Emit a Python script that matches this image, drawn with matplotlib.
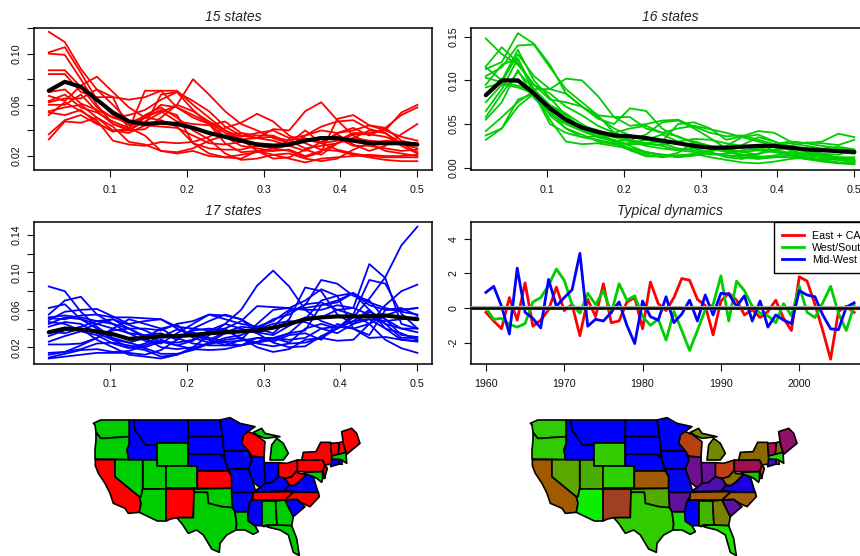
import numpy as np
import matplotlib
matplotlib.use('Agg')
import matplotlib.pyplot as plt
from matplotlib.patches import Polygon

plt.rcParams['font.family'] = ['Liberation Sans', 'DejaVu Sans']

RED = '#FF0000'
GREEN = '#00CD00'
BLUE = '#0000FF'

freq = [k / 48 for k in range(1, 25)]
years = list(range(1960, 2008))

red_lines = [
    [.117,.109,.088,.072,.060,.047,.044,.043,.042,.036,.030,.029,.031,.030,.029,.028,.032,.035,.034,.028,.028,.026,.024,.025],
    [.101,.105,.085,.064,.052,.044,.050,.060,.058,.050,.045,.035,.028,.026,.024,.025,.020,.024,.030,.034,.032,.031,.030,.029],
    [.100,.099,.080,.060,.045,.040,.047,.054,.060,.055,.047,.040,.033,.024,.021,.022,.018,.016,.018,.025,.030,.032,.031,.030],
    [.087,.087,.074,.058,.050,.052,.056,.064,.070,.063,.055,.043,.036,.034,.035,.032,.026,.028,.030,.037,.037,.035,.030,.023],
    [.084,.084,.070,.066,.066,.064,.066,.071,.071,.060,.050,.040,.035,.038,.040,.034,.036,.043,.047,.048,.041,.038,.030,.026],
    [.067,.063,.075,.082,.070,.058,.050,.048,.043,.030,.026,.025,.025,.028,.026,.028,.036,.040,.038,.040,.044,.042,.032,.029],
    [.062,.065,.065,.072,.066,.040,.041,.050,.060,.080,.068,.055,.045,.040,.034,.030,.040,.030,.032,.038,.038,.040,.035,.032],
    [.060,.060,.068,.055,.045,.041,.071,.071,.058,.052,.046,.038,.033,.034,.041,.040,.055,.062,.048,.036,.030,.024,.022,.020],
    [.055,.058,.060,.050,.040,.038,.044,.068,.070,.056,.045,.030,.023,.024,.024,.033,.034,.030,.025,.022,.020,.019,.019,.019],
    [.054,.052,.056,.046,.039,.042,.052,.058,.050,.040,.033,.022,.017,.018,.021,.018,.015,.018,.019,.020,.021,.020,.020,.021],
    [.052,.062,.055,.048,.032,.029,.028,.031,.030,.031,.035,.042,.046,.053,.047,.036,.030,.025,.024,.021,.019,.017,.016,.016],
    [.037,.048,.052,.045,.040,.040,.050,.056,.052,.030,.022,.019,.021,.023,.026,.024,.019,.023,.049,.052,.044,.040,.054,.060],
    [.033,.047,.046,.050,.043,.031,.029,.024,.023,.026,.032,.036,.038,.036,.036,.030,.033,.030,.038,.042,.036,.042,.052,.058],
    [.070,.072,.061,.056,.050,.046,.051,.055,.047,.045,.044,.047,.038,.034,.032,.028,.024,.031,.037,.029,.024,.028,.037,.045],
    [.063,.068,.058,.054,.047,.042,.036,.024,.022,.024,.020,.019,.018,.024,.018,.019,.025,.021,.030,.034,.040,.038,.028,.022],
]
red_mean = [.071,.078,.074,.064,.054,.047,.045,.046,.045,.042,.038,.035,.032,.029,.028,.029,.032,.034,.034,.032,.030,.030,.030,.029]

green_lines = [
    [.148,.130,.118,.095,.085,.070,.060,.048,.040,.032,.028,.025,.020,.018,.015,.016,.020,.022,.020,.017,.015,.014,.012,.010],
    [.116,.138,.120,.095,.078,.075,.070,.060,.058,.058,.045,.040,.045,.048,.044,.040,.035,.030,.025,.020,.015,.012,.010,.008],
    [.113,.121,.154,.142,.118,.085,.070,.058,.045,.037,.032,.028,.022,.020,.016,.014,.014,.016,.020,.022,.020,.016,.011,.008],
    [.105,.115,.140,.141,.115,.090,.075,.060,.040,.030,.028,.030,.050,.052,.045,.032,.036,.042,.040,.030,.028,.030,.039,.035],
    [.103,.098,.130,.105,.090,.102,.100,.082,.058,.048,.050,.054,.055,.047,.040,.036,.037,.032,.027,.030,.028,.025,.022,.020],
    [.095,.118,.125,.090,.090,.085,.070,.056,.050,.068,.065,.045,.035,.030,.025,.020,.015,.012,.012,.012,.010,.008,.006,.005],
    [.092,.097,.094,.087,.066,.055,.048,.043,.030,.027,.027,.026,.030,.033,.032,.028,.025,.020,.018,.016,.014,.013,.012,.012],
    [.085,.100,.135,.100,.080,.060,.045,.035,.032,.025,.018,.015,.014,.015,.017,.014,.012,.010,.012,.015,.017,.016,.015,.020],
    [.075,.095,.092,.085,.062,.052,.044,.038,.030,.032,.038,.052,.054,.045,.034,.022,.012,.012,.014,.018,.015,.012,.009,.006],
    [.065,.090,.125,.085,.070,.060,.045,.040,.035,.030,.025,.022,.020,.023,.022,.020,.018,.015,.025,.028,.025,.022,.024,.021],
    [.058,.085,.110,.090,.072,.062,.050,.040,.030,.022,.018,.014,.012,.014,.018,.025,.035,.038,.030,.022,.018,.014,.010,.008],
    [.055,.075,.112,.080,.062,.050,.042,.035,.030,.020,.015,.012,.014,.016,.012,.009,.006,.005,.007,.010,.012,.009,.006,.004],
    [.042,.058,.075,.088,.065,.045,.038,.030,.027,.028,.032,.038,.030,.022,.018,.012,.010,.016,.021,.025,.029,.028,.026,.032],
    [.037,.045,.078,.085,.050,.040,.035,.036,.040,.045,.048,.040,.036,.028,.022,.018,.015,.013,.012,.014,.010,.007,.005,.004],
    [.032,.045,.070,.085,.055,.030,.027,.028,.025,.022,.017,.015,.013,.014,.020,.022,.018,.020,.018,.015,.012,.010,.009,.007],
    [.115,.100,.098,.090,.060,.045,.035,.032,.028,.020,.013,.013,.017,.030,.024,.020,.026,.035,.030,.024,.022,.020,.018,.016],
]
green_mean = [.083,.100,.100,.085,.068,.055,.046,.041,.037,.036,.034,.031,.028,.025,.023,.023,.024,.025,.025,.023,.021,.020,.019,.018]

blue_lines = [
    [.085,.080,.058,.042,.030,.025,.030,.040,.044,.030,.025,.025,.022,.030,.030,.035,.038,.065,.070,.078,.068,.062,.058,.055],
    [.062,.066,.050,.040,.028,.020,.017,.010,.012,.020,.033,.045,.060,.086,.102,.085,.060,.048,.042,.040,.045,.054,.060,.062],
    [.055,.070,.074,.055,.045,.040,.040,.038,.045,.048,.055,.054,.050,.035,.025,.020,.021,.032,.040,.048,.060,.040,.028,.027],
    [.051,.050,.054,.055,.052,.052,.051,.050,.042,.040,.038,.040,.048,.064,.063,.062,.060,.060,.065,.062,.055,.045,.030,.030],
    [.049,.058,.060,.061,.053,.045,.048,.050,.040,.032,.028,.022,.022,.025,.028,.035,.050,.070,.075,.078,.060,.045,.040,.036],
    [.045,.052,.050,.045,.040,.035,.033,.035,.028,.040,.048,.055,.050,.040,.035,.050,.084,.080,.055,.045,.050,.040,.035,.028],
    [.042,.047,.045,.035,.028,.025,.020,.026,.022,.027,.038,.045,.040,.035,.042,.058,.065,.092,.088,.075,.070,.050,.040,.040],
    [.037,.035,.040,.028,.020,.012,.010,.008,.012,.018,.025,.035,.038,.036,.033,.043,.052,.052,.060,.062,.109,.094,.045,.040],
    [.032,.038,.042,.048,.050,.040,.032,.026,.025,.028,.035,.040,.028,.025,.030,.025,.040,.045,.040,.055,.092,.088,.056,.040],
    [.023,.023,.024,.030,.040,.050,.045,.040,.030,.024,.022,.022,.028,.045,.060,.062,.070,.082,.075,.040,.030,.031,.028,.026],
    [.014,.015,.022,.030,.038,.040,.030,.020,.018,.020,.023,.028,.030,.024,.021,.024,.025,.030,.040,.052,.072,.095,.129,.149],
    [.012,.015,.018,.024,.025,.022,.019,.013,.013,.017,.024,.030,.033,.040,.050,.055,.066,.068,.060,.055,.045,.028,.019,.014],
    [.009,.013,.017,.018,.015,.016,.022,.028,.022,.018,.017,.018,.022,.026,.030,.028,.030,.040,.042,.048,.050,.048,.050,.052],
    [.008,.010,.012,.014,.014,.014,.012,.017,.028,.038,.040,.038,.030,.020,.015,.018,.028,.030,.027,.028,.045,.065,.080,.087],
    [.052,.054,.052,.048,.045,.035,.027,.024,.035,.045,.055,.050,.045,.042,.048,.060,.062,.065,.068,.078,.065,.060,.060,.062],
    [.047,.045,.038,.045,.050,.044,.038,.030,.032,.036,.030,.026,.027,.030,.026,.033,.035,.028,.045,.040,.033,.060,.062,.054],
    [.026,.032,.037,.033,.024,.019,.024,.031,.039,.034,.028,.036,.042,.040,.045,.048,.047,.040,.035,.045,.058,.050,.033,.031],
]
blue_mean = [.036,.040,.039,.037,.034,.029,.030,.032,.032,.033,.035,.036,.037,.038,.041,.045,.050,.052,.053,.053,.053,.054,.052,.050]

east_ca = [-.25,-.75,-1.2,.6,-.7,1.45,-1.05,-.7,-.1,1.2,-.15,.2,-1.6,.5,-.5,1.4,-.85,-.75,.35,.6,-1.2,1.5,.25,-.15,.6,1.7,1.6,.5,.15,-1.55,.4,.85,.45,-.4,-.1,-.55,-.2,.45,-.6,-1.3,1.8,1.55,.2,-1.3,-2.95,-.2,.1,-.25]
west_south = [0,-.65,-.6,-.95,-1.1,-.9,.35,.6,1.3,2.25,1.6,.2,-.3,.85,.2,1.0,-.3,1.4,.45,.7,-.5,-1.0,-.65,-1.85,-.2,-1.3,-2.45,-1.3,-.1,.2,1.85,-.75,1.55,1.0,.1,-.3,-.45,-.85,.25,-.45,1.25,-.25,-.55,.3,1.25,-.3,-1.3,.15]
mid_west = [.9,1.25,.1,-1.5,2.3,-.25,-.6,-1.15,1.65,.1,.6,1.05,3.15,-1.05,-.65,-.75,-.25,.35,-1.0,-2.05,.4,-.5,-.7,.65,-.85,-.35,.45,-.75,.75,-.4,.85,.8,.1,.7,-.75,.4,-1.1,-.4,-.7,-.9,1.0,.75,.65,-.4,-1.2,-1.25,.05,.3]

# state outlines
states = {
    'WA': [(40,85),(62,75),(148,75),(148,125),(100,128),(75,130),(62,130),(48,112),(45,90)],
    'OR': [(48,112),(62,130),(75,130),(100,128),(148,125),(148,145),(141,165),(146,194),(45,192),(45,165),(48,135)],
    'CA': [(46,194),(105,194),(105,245),(178,305),(183,325),(178,352),(145,355),(135,340),(100,325),(90,295),(75,265),(55,235),(46,212)],
    'NV': [(105,194),(188,194),(188,282),(183,305),(178,305),(105,245)],
    'ID': [(148,75),(162,75),(165,105),(182,128),(197,150),(230,150),(230,194),(146,194),(141,165),(148,145)],
    'MT': [(162,75),(325,75),(325,145),(230,145),(230,150),(197,150),(182,128),(165,105)],
    'WY': [(230,145),(325,145),(325,212),(230,212)],
    'UT': [(188,194),(230,194),(230,212),(258,212),(258,282),(188,282)],
    'AZ': [(188,282),(258,282),(258,378),(232,378),(178,352),(183,325),(178,305),(183,305)],
    'CO': [(258,212),(352,212),(352,280),(258,280)],
    'NM': [(258,282),(342,282),(340,368),(290,368),(272,372),(258,378)],
    'ND': [(325,75),(420,75),(428,125),(325,125)],
    'SD': [(325,125),(428,125),(430,140),(432,185),(420,178),(325,178)],
    'NE': [(325,178),(420,178),(435,195),(445,228),(352,228),(352,212),(325,212)],
    'KS': [(352,228),(445,228),(455,245),(455,280),(352,280)],
    'OK': [(342,282),(455,280),(458,338),(425,335),(385,325),(382,292),(342,292)],
    'TX': [(290,368),(340,368),(342,292),(382,292),(385,325),(425,335),(458,338),(465,350),(470,385),(468,405),(440,420),(420,445),(418,472),(395,462),(370,420),(350,405),(325,415),(305,385)],
    'LA': [(465,350),(505,350),(505,378),(525,392),(535,410),(520,418),(495,405),(468,405),(470,385)],
    'AR': [(455,292),(525,292),(510,320),(503,350),(465,350),(458,338)],
    'MS': [(518,315),(546,315),(546,392),(525,392),(505,378),(503,350),(510,320)],
    'AL': [(546,318),(587,318),(590,375),(592,390),(560,390),(552,395),(546,392)],
    'GA': [(587,318),(615,315),(640,365),(635,392),(592,392),(590,375)],
    'FL': [(552,392),(592,390),(635,392),(650,430),(658,482),(640,472),(625,420),(600,405),(570,398)],
    'SC': [(615,315),(650,313),(675,335),(640,365)],
    'NC': [(640,292),(715,292),(718,305),(690,335),(668,325),(650,313),(615,315)],
    'TN': [(520,292),(640,290),(615,315),(518,315)],
    'KY': [(520,290),(540,278),(555,265),(575,262),(595,245),(615,250),(628,270),(612,288)],
    'VA': [(612,288),(628,270),(640,272),(655,262),(680,238),(700,245),(712,285),(715,292)],
    'WV': [(615,250),(635,245),(652,225),(655,235),(680,238),(655,262),(640,272),(628,270)],
    'OH': [(595,203),(620,205),(652,195),(652,225),(635,245),(615,250),(595,245)],
    'IN': [(552,203),(595,203),(595,245),(575,262),(555,265)],
    'IL': [(515,183),(552,187),(555,265),(540,278),(520,262),(505,222),(515,195)],
    'WI': [(490,120),(500,108),(525,118),(555,140),(552,187),(515,183),(505,168),(485,145)],
    'MN': [(420,75),(450,68),(480,85),(525,95),(490,120),(485,145),(505,168),(432,168),(428,125)],
    'IA': [(432,168),(505,168),(515,195),(505,222),(445,222),(435,195)],
    'MO': [(445,222),(505,222),(518,258),(527,290),(525,292),(455,292),(455,245)],
    'MIU': [(520,112),(545,100),(555,115),(600,125),(555,130),(535,122)],
    'MI': [(570,195),(575,150),(590,130),(610,145),(625,175),(610,195)],
    'PA': [(652,195),(728,195),(735,210),(728,230),(652,230)],
    'NY': [(665,195),(670,172),(708,170),(722,142),(752,142),(755,183),(755,207),(735,210),(728,195)],
    'NJ': [(735,210),(742,220),(735,245),(725,240),(730,225)],
    'MD': [(672,232),(728,230),(728,250),(725,262),(710,250),(700,245),(680,238)],
    'DE': [(728,230),(735,245),(735,250),(728,250)],
    'VT': [(752,145),(778,143),(775,180),(755,183)],
    'NH': [(778,143),(788,140),(798,172),(775,180)],
    'ME': [(785,110),(815,100),(830,115),(840,145),(800,178),(790,145)],
    'MA': [(755,183),(798,172),(800,205),(785,195),(755,193)],
    'CT': [(755,193),(778,193),(778,207),(752,215)],
    'RI': [(778,193),(785,195),(787,208),(778,207)],
}

red_states = ['CA','KS','NM','WI','OH','PA','NY','WV','TN','NC','VT','NH','ME','NJ','DE']
green_states = ['WA','OR','NV','UT','AZ','WY','CO','OK','TX','LA','AL','GA','FL','MI','MIU','MA','MD']
blue_states = ['ID','MT','ND','SD','NE','MN','IA','MO','AR','IL','IN','KY','VA','MS','SC','CT','RI']

mixed_colors = {
    'WA':'#2ecc00','OR':'#2ecc00','CA':'#a05a00','NV':'#5aa800','ID':'#0000ff','MT':'#0000ff','WY':'#33cc00',
    'UT':'#4aae00','AZ':'#0cee00','CO':'#2fd000','NM':'#a04020','ND':'#0000ff','SD':'#0000ff','NE':'#0000ff',
    'KS':'#a05a08','OK':'#50ab00','TX':'#30cc00','LA':'#22dd00','AR':'#60109a','MS':'#0000ff','AL':'#40b500',
    'GA':'#7a8000','FL':'#22e000','SC':'#5a0fa5','NC':'#a06010','TN':'#a85a00','KY':'#4a10b0','VA':'#1a00e0',
    'WV':'#8a7000','OH':'#c04018','IN':'#6a10a0','IL':'#700f90','WI':'#b84010','MN':'#0000ff','IA':'#0000ff',
    'MO':'#0505f0','MI':'#6f8a00','MIU':'#6f8a00','PA':'#a01050','NY':'#8a6a00','NJ':'#d04010','MD':'#20c000',
    'DE':'#a04040','VT':'#b01050','NH':'#8f6500','ME':'#90106a','MA':'#22dd00','CT':'#3a10c0','RI':'#20d000',
}

W, H = 860, 556
fig = plt.figure(figsize=(W / 100, H / 100), dpi=100)


def pixelAxes(left, top, right, bottom):
    return fig.add_axes([left / W, 1 - bottom / H, (right - left) / W, (bottom - top) / H])


def styleAxes(ax, title, xticks, yticks, ylabels):
    ax.set_title(title, style='italic', fontsize=10, pad=5, color='#222222')
    ax.set_xticks(xticks)
    ax.set_yticks(yticks)
    ax.set_yticklabels(ylabels, rotation=90, va='center')
    ax.tick_params(length=5, width=0.8, labelsize=7.7, colors='#111111')
    ax.tick_params(axis='x', pad=6)
    ax.tick_params(axis='y', pad=4)
    for s in ax.spines.values():
        s.set_linewidth(1.1)


def spectrumPanel(box, lines, mean, color, title, ylim, yticks, ylabels):
    ax = pixelAxes(*box)
    for line in lines:
        ax.plot(freq, line, color=color, lw=1.3)
    ax.plot(freq, mean, color='black', lw=3.0, solid_capstyle='round')
    ax.set_xlim(0.0016, 0.519)
    ax.set_ylim(*ylim)
    styleAxes(ax, title, [0.1, 0.2, 0.3, 0.4, 0.5], yticks, ylabels)
    return ax


def drawMap(left, colors):
    ax = pixelAxes(left, 395, left + 290, 556)
    ax.set_xlim(0, 870)
    ax.set_ylim(483, 0)
    ax.axis('off')
    for name, pts in states.items():
        ax.add_patch(Polygon(pts, closed=True, facecolor=colors[name], edgecolor='black', lw=1.2, joinstyle='round'))


spectrumPanel((34, 28, 432, 170), red_lines, red_mean, RED, '15 states', (0.0091, 0.120),
              [.02, .04, .06, .08, .10, .12], ['0.02', '', '0.06', '', '0.10', ''])
spectrumPanel((471, 28, 869, 170), green_lines, green_mean, GREEN, '16 states', (-0.0026, 0.160),
              [0, .05, .10, .15], ['0.00', '0.05', '0.10', '0.15'])
spectrumPanel((34, 222, 432, 364), blue_lines, blue_mean, BLUE, '17 states', (0.0021, 0.154),
              [.02, .04, .06, .08, .10, .12, .14], ['0.02', '', '0.06', '', '0.10', '', '0.14'])

ax = pixelAxes(471, 222, 869, 364)
ax.plot(years, east_ca, color=RED, lw=2.0, label='East + CA')
ax.plot(years, west_south, color=GREEN, lw=2.0, label='West/South')
ax.plot(years, mid_west, color=BLUE, lw=2.0, label='Mid-West')
ax.axhline(0, color='#aaaaaa', lw=3.0, zorder=3)
ax.axhline(0, color='black', lw=1.8, zorder=4)
ax.set_xlim(1958.1, 2008.9)
ax.set_ylim(-3.23, 4.96)
styleAxes(ax, 'Typical dynamics', [1960, 1970, 1980, 1990, 2000], [-2, 0, 2, 4], ['-2', '0', '2', '4'])
leg = ax.legend(loc='upper right', bbox_to_anchor=(1.018, 1), borderaxespad=0, fancybox=False, framealpha=1,
                edgecolor='black', fontsize=7.7, handlelength=2.05, handletextpad=0.75, labelspacing=0.2,
                borderpad=0.8)
leg.get_frame().set_linewidth(1.0)
leg.set_zorder(6)

drawMap(80, {**{s: RED for s in red_states}, **{s: GREEN for s in green_states}, **{s: BLUE for s in blue_states}})
drawMap(517, mixed_colors)

plt.savefig('out.png', dpi=100)
